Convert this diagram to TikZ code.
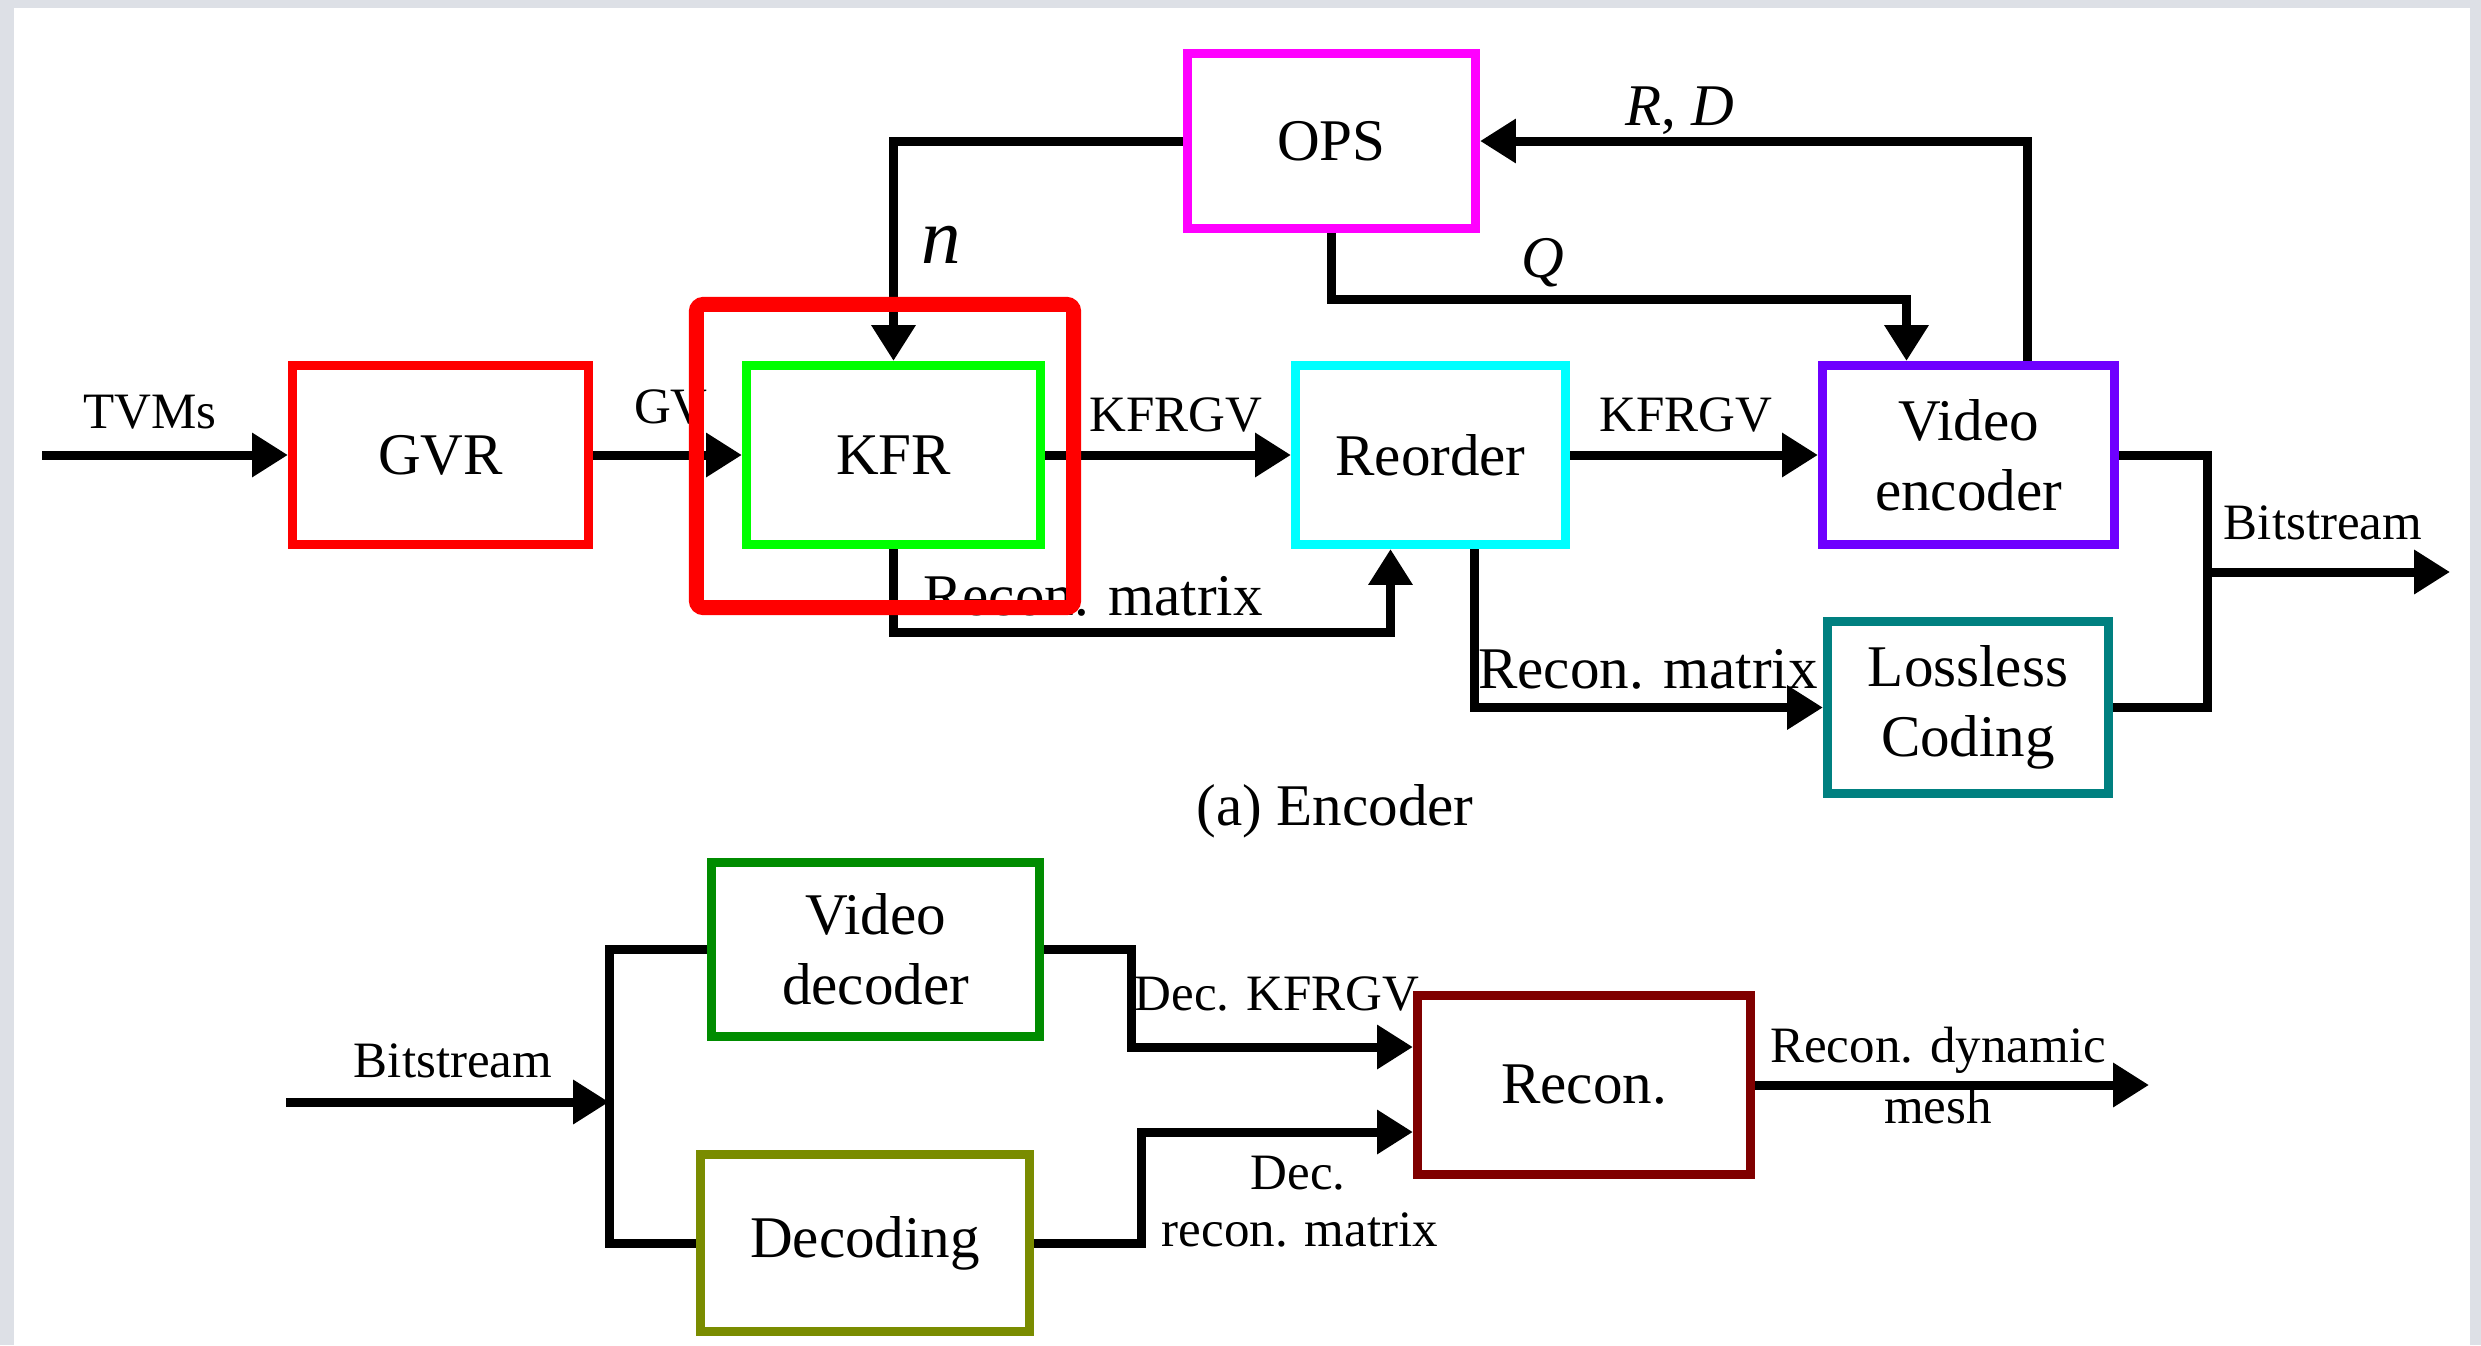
\documentclass[tikz,border=0pt]{standalone}
\usepackage{fontspec}
\setmainfont{Liberation Serif}
\usetikzlibrary{arrows.meta,calc}
\definecolor{bggray}{RGB}{221,224,230}
\definecolor{vepurple}{RGB}{110,0,255}
\definecolor{llteal}{RGB}{0,128,128}
\definecolor{vdgreen}{RGB}{0,140,0}
\definecolor{decolive}{RGB}{122,140,0}
\definecolor{recmaroon}{RGB}{128,0,0}
\definecolor{opsmag}{RGB}{255,0,255}
\definecolor{reocyan}{RGB}{0,255,255}
\definecolor{kfrgreen}{RGB}{0,255,0}
\definecolor{pured}{RGB}{255,0,0}
\newcommand\bxf{\fontsize{16.8pt}{20pt}\selectfont}
\newcommand\lbf{\fontsize{14.5pt}{17pt}\selectfont}
\newcommand\lbbf{\fontsize{16.8pt}{20pt}\selectfont}
\begin{document}
\begin{tikzpicture}[x=0.01cm,y=-0.01cm,
  blk/.style={draw=#1, line width=2.7pt, inner sep=0pt, align=center, font=\bxf},
  lbl/.style={inner sep=0pt, anchor=base, font=\lbf},
  lblb/.style={inner sep=0pt, anchor=base, font=\lbbf},
  conn/.style={line width=2.56pt, black},
  arr/.style={conn, -{Triangle[length=10.2pt,width=12pt]}}]
\useasboundingbox (0,0) rectangle (2481,1345);
\fill[bggray] (0,0) rectangle (2481,1345);
\fill[white] (14,8) rectangle (2470,1345);

% encoder blocks
\node[blk=pured, minimum width=2.955cm, minimum height=1.785cm] (gvr) at (440.5,455) {GVR};
\node[blk=kfrgreen, minimum width=2.935cm, minimum height=1.785cm] (kfr) at (893.5,455) {KFR};
\node[blk=reocyan, minimum width=2.695cm, minimum height=1.785cm] (reo) at (1430.5,455) {Reorder};
\node[blk=vepurple, minimum width=2.915cm, minimum height=1.785cm] (ve) at (1968.5,455) {Video\\encoder};
\node[blk=opsmag, minimum width=2.875cm, minimum height=1.745cm] (ops) at (1331.5,141) {OPS};
\node[blk=llteal, minimum width=2.805cm, minimum height=1.715cm] (ll) at (1968,707.5) {Lossless\\Coding};

% decoder blocks
\node[blk=vdgreen, minimum width=3.275cm, minimum height=1.735cm] (vd) at (875.5,949.5) {Video\\decoder};
\node[blk=decolive, minimum width=3.285cm, minimum height=1.765cm] (dec) at (865,1243) {Decoding};
\node[blk=recmaroon, minimum width=3.325cm, minimum height=1.785cm] (rec) at (1584,1085) {Recon.};

% free ends
\coordinate (tin) at (42,455);
\coordinate (bj) at (2207,572);
\coordinate (bout) at (2450,572);
\coordinate (bin) at (286,1102);
\coordinate (br) at (609,1102);
\coordinate (rout) at (2149,1085);

% encoder connectors
\draw[arr] (tin) -- (gvr.west);
\draw[arr] (gvr.east) -- (kfr.west);
\draw[arr] (kfr.east) -- (reo.west);
\draw[arr] (reo.east) -- (ve.west);
\draw[arr] (ops.west) -| (kfr.north);
\draw[arr] ($(ve.north)+(59,0)$) |- (ops.east);
\draw[arr] (ops.south) -- ++(0,66) -| ($(ve.north)+(-62,0)$);
\draw[arr] (kfr.south) -- ++(0,83) -| ($(reo.south)+(-40,0)$);
\draw[arr] ($(reo.south)+(44,0)$) |- (ll.west);
\draw[conn] (ve.east) -| (bj) |- (ll.east);
\draw[arr] (bj) -- (bout);

% decoder connectors
\draw[arr] (bin) -- (br);
\draw[conn] (vd.west) -| (br) |- (dec.west);
\draw[arr] (vd.east) -- ++(87,0) |- ($(rec.west)+(0,-38)$);
\draw[arr] (dec.east) -- ++(107,0) |- ($(rec.west)+(0,47)$);
\draw[arr] (rec.east) -- (rout);

% labels
\node[lbl] (l1) at (150,428) {TVMs};
\node[lbl] (l2) at (671,423) {GV};
\node[lbl] (l3) at (1176,431) {KFRGV};
\node[lbl] (l4) at (1686,431) {KFRGV};
\node[inner sep=0pt, anchor=base, font=\fontsize{22.5pt}{24pt}\selectfont] (l5) at (941,263) {\textit{n}};
\node[lblb] (l6) at (1680,125) {\textit{R}, \textit{D}};
\node[lblb] (l7) at (1543,277) {\textit{Q}};
\node[lblb] (l8) at (1093,615) {Recon. matrix};
\node[lblb] (l9) at (1648,688) {Recon. matrix};
\node[lbl] (l10) at (2323,539) {Bitstream};
\node[lblb] (l11) at (1335,825) {(a) Encoder};
\node[lbl] (l12) at (453,1077) {Bitstream};
\node[lbl] (l13) at (1277,1010) {Dec. KFRGV};
\node[lbl] (l14) at (1298,1189) {Dec.};
\node[lbl] (l15) at (1300,1246) {recon. matrix};
\node[lbl] (l16) at (1938,1062) {Recon. dynamic};
\node[lbl] (l17) at (1938,1123) {mesh};

% highlight box drawn on top
\node[draw=pured, line width=4.27pt, rounded corners=2pt, inner sep=0pt,
      minimum width=3.77cm, minimum height=3.03cm] (sel) at (885,456) {};
\end{tikzpicture}
\end{document}
